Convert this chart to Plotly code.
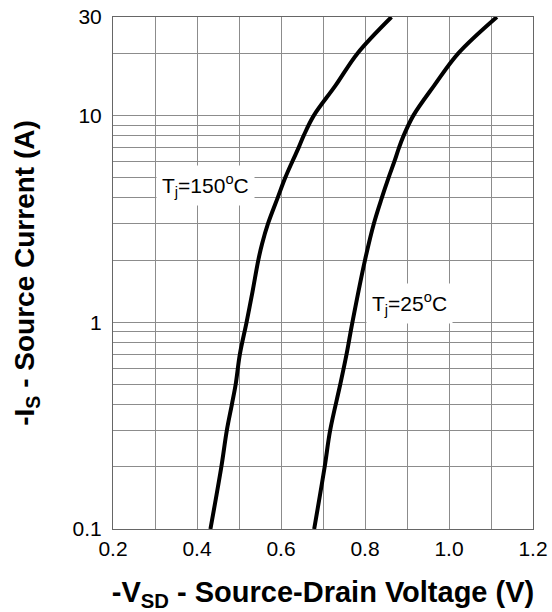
import math
import plotly.graph_objects as go

# Source current (A) and source-drain voltage (V)
i_150 = [0.1, 0.2, 0.3, 0.4, 0.5, 0.7, 1, 1.4, 2, 2.4, 3, 4, 5, 6, 7, 8, 10, 14, 20, 30]
v_150 = [0.432, 0.458, 0.471, 0.483, 0.492, 0.502, 0.518, 0.532, 0.546, 0.555, 0.569,
         0.592, 0.610, 0.627, 0.642, 0.654, 0.678, 0.730, 0.782, 0.863]

i_25 = [0.1, 0.2, 0.3, 0.5, 0.7, 1, 2, 3, 4, 5, 6, 7, 8, 10, 14, 20, 30]
v_25 = [0.679, 0.704, 0.717, 0.741, 0.756, 0.770, 0.800, 0.821, 0.840, 0.856, 0.870,
        0.881, 0.892, 0.915, 0.965, 1.022, 1.114]

x_ticks = [0.2, 0.4, 0.6, 0.8, 1.0, 1.2]
y_ticks = [0.1, 1, 10, 30]
y_tick_text = ["0.1", "1", "10", "30"]
y_minor = [0.2, 0.3, 0.4, 0.5, 0.6, 0.7, 0.8, 0.9, 2, 3, 4, 5, 6, 7, 8, 9, 20]

labels = ["T<sub>j</sub>=150<sup>o</sup>C", "T<sub>j</sub>=25<sup>o</sup>C"]
label_x = [0.421, 0.907]
label_y = [4.57, 1.24]

FONT = "Arial, Liberation Sans, sans-serif"
GRID = "#8c8c8c"

fig = go.Figure()
for v, i in [(v_150, i_150), (v_25, i_25)]:
    fig.add_trace(go.Scatter(x=v, y=i, mode="lines",
                             line=dict(color="black", width=4, shape="spline", smoothing=1.0),
                             showlegend=False, hoverinfo="skip"))

for t, lx, ly in zip(labels, label_x, label_y):
    fig.add_annotation(x=lx, y=math.log10(ly), xref="x", yref="y", text=t, showarrow=False,
                       font=dict(family=FONT, size=21, color="black"),
                       bgcolor="white", borderpad=5)

fig.update_layout(
    template="none",
    width=552, height=612,
    margin=dict(l=113, r=19, t=17, b=83, autoexpand=False),
    paper_bgcolor="white", plot_bgcolor="white",
    font=dict(family=FONT, size=21, color="black"),
)
fig.update_xaxes(
    range=[0.2, 1.2], tickvals=x_ticks, tickformat=".1f", automargin=False,
    ticklabeloverflow="allow",
    showgrid=True, gridcolor=GRID, gridwidth=1,
    minor=dict(dtick=0.1, tick0=0.2, showgrid=True, gridcolor=GRID, gridwidth=1, ticks=""),
    showline=True, linecolor="#666666", linewidth=1, mirror=True,
    ticks="", ticklabelstandoff=1, zeroline=False,
    title=dict(text="-V<sub>SD</sub> - Source-Drain Voltage (V)",
               font=dict(family=FONT, size=29, weight="bold"), standoff=26),
)
fig.update_yaxes(
    type="log", range=[-1, math.log10(30)], automargin=False,
    ticklabeloverflow="allow",
    tickvals=y_ticks, ticktext=y_tick_text,
    showgrid=True, gridcolor=GRID, gridwidth=1,
    minor=dict(tickvals=y_minor, showgrid=True, gridcolor=GRID, gridwidth=1, ticks=""),
    showline=True, linecolor="#666666", linewidth=1, mirror=True,
    ticks="", ticklabelstandoff=6, zeroline=False,
    title=dict(text="-I<sub>S</sub> - Source Current (A)",
               font=dict(family=FONT, size=28, weight="bold"), standoff=29),
)

# remove the page's default body margin so the figure sits at the window's corner
fig.write_html("out.html", config={"displayModeBar": False, "staticPlot": True},
               post_script="document.body.style.margin='0';")
